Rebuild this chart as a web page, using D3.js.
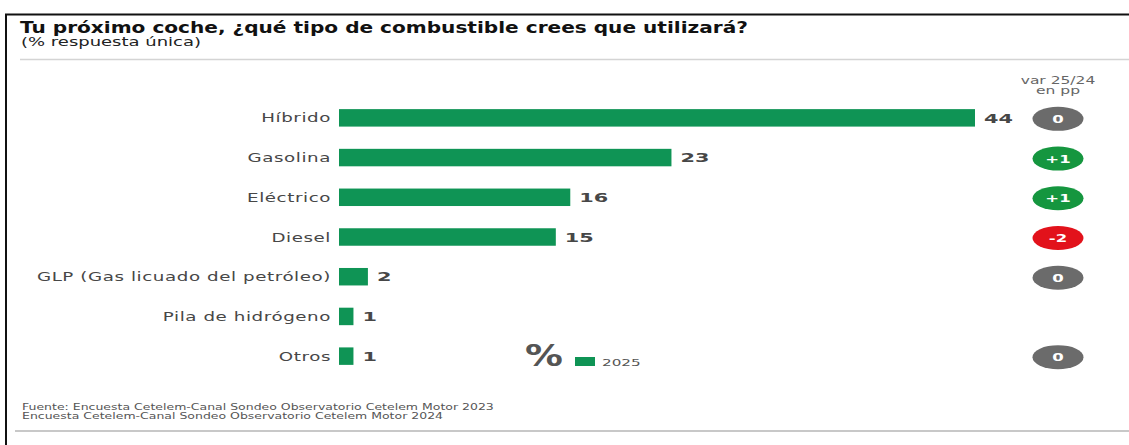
<!DOCTYPE html>
<html>
<head>
<meta charset="utf-8">
<script src="https://cdn.jsdelivr.net/npm/d3@7"></script>
<style>
  html, body { margin: 0; padding: 0; background: #fff; }
  svg { display: block; }
  text { font-family: "DejaVu Sans", sans-serif; }
</style>
</head>
<body>
<svg id="chart" width="1129" height="445"></svg>
<script>
// Fuel type intentions, 2025 (% single answer) and change vs 2024 in points
const categories = ["Híbrido", "Gasolina", "Eléctrico", "Diesel", "GLP (Gas licuado del petróleo)", "Pila de hidrógeno", "Otros"];
const values2025 = [44, 23, 16, 15, 2, 1, 1];
const variation = [0, 1, 1, -2, 0, null, 0];
const variationLabels = ["0", "+1", "+1", "-2", "0", "", "0"];
const legendYear = "2025";
const sourceLines = [
  "Fuente: Encuesta Cetelem-Canal Sondeo Observatorio Cetelem Motor 2023",
  "Encuesta Cetelem-Canal Sondeo Observatorio Cetelem Motor 2024"
];

const svg = d3.select("#chart");
const W = 1129, H = 445;

const GREEN = "#0f9455";
const TEXT = "#474747";

// text set in a wide face: horizontally stretched glyphs
const wide = (sx) => (x, y) => `translate(${x},${y}) scale(${sx},1)`;
function stext(parent, x, y, sx) {
  return parent.append("text").attr("transform", wide(sx)(x, y));
}

// outer frame (top and left edges)
svg.append("line").attr("x1", 5).attr("x2", W).attr("y1", 14.5).attr("y2", 14.5)
  .attr("stroke", "#111").attr("stroke-width", 2);
svg.append("line").attr("x1", 6).attr("x2", 6).attr("y1", 14).attr("y2", H)
  .attr("stroke", "#111").attr("stroke-width", 2);

// title block
stext(svg, 20, 33, 1.34)
  .attr("font-size", 15).attr("font-weight", "bold").attr("fill", "#111")
  .text("Tu próximo coche, ¿qué tipo de combustible crees que utilizará?");
stext(svg, 21, 46, 1.5)
  .attr("font-size", 12).attr("fill", "#222")
  .text("(% respuesta única)");
svg.append("line").attr("x1", 20).attr("x2", W).attr("y1", 59.5).attr("y2", 59.5)
  .attr("stroke", "#d4d4d4").attr("stroke-width", 1.5);

// scales
const x = d3.scaleLinear().domain([0, 44]).range([339, 975]);
const y = d3.scaleBand().domain(categories).range([98, 376]).paddingInner(0.56).paddingOuter(0.28);
const mid = d => y(d) + y.bandwidth() / 2;

// category labels
svg.append("g").selectAll("text").data(categories).join("text")
  .attr("transform", d => wide(1.46)(331, mid(d)))
  .attr("dy", "0.36em").attr("text-anchor", "end")
  .attr("font-size", 12.5).attr("letter-spacing", 0.4).attr("fill", TEXT)
  .text(d => d);

// bars
svg.append("g").selectAll("rect").data(values2025).join("rect")
  .attr("x", x(0)).attr("y", (d, i) => y(categories[i]))
  .attr("width", d => x(d) - x(0)).attr("height", y.bandwidth())
  .attr("fill", GREEN);

// value labels
svg.append("g").selectAll("text").data(values2025).join("text")
  .attr("transform", (d, i) => wide(1.6)(x(d) + 9, mid(categories[i])))
  .attr("dy", "0.36em").attr("font-size", 13).attr("font-weight", "bold")
  .attr("fill", TEXT)
  .text(d => d);

// variation column
const cx = 1058;
stext(svg, cx, 84, 1.55).attr("text-anchor", "middle")
  .attr("font-size", 10).attr("fill", "#666").text("var 25/24");
stext(svg, cx, 94, 1.55).attr("text-anchor", "middle")
  .attr("font-size", 10).attr("fill", "#666").text("en pp");

const pillColor = v => v > 0 ? "#15963f" : v < 0 ? "#e2121b" : "#6b6b6b";
const pills = svg.append("g").selectAll("g")
  .data(variation.map((v, i) => ({ v, i })).filter(d => d.v !== null))
  .join("g")
  .attr("transform", d => `translate(${cx},${mid(categories[d.i]) + 1})`);
pills.append("ellipse").attr("rx", 25.5).attr("ry", 12).attr("fill", d => pillColor(d.v));
pills.append("text").attr("transform", "scale(1.5,1)")
  .attr("text-anchor", "middle").attr("dy", "0.36em")
  .attr("font-size", 11).attr("font-weight", "bold").attr("fill", "#fff")
  .text(d => variationLabels[d.i]);

// legend
stext(svg, 525, 366, 1.22)
  .attr("font-size", 31).attr("font-weight", "bold").attr("fill", "#555").text("%");
svg.append("rect").attr("x", 575).attr("y", 357).attr("width", 20).attr("height", 9).attr("fill", GREEN);
stext(svg, 602, 366, 1.6)
  .attr("font-size", 9.5).attr("fill", "#555").text(legendYear);

// source note
svg.append("g").selectAll("text").data(sourceLines).join("text")
  .attr("transform", (d, i) => wide(1.42)(22, 410 + i * 9))
  .attr("font-size", 8.8).attr("fill", "#555")
  .text(d => d);
svg.append("line").attr("x1", 15).attr("x2", W).attr("y1", 431).attr("y2", 431)
  .attr("stroke", "#c8c8c8").attr("stroke-width", 2);
</script>
</body>
</html>
